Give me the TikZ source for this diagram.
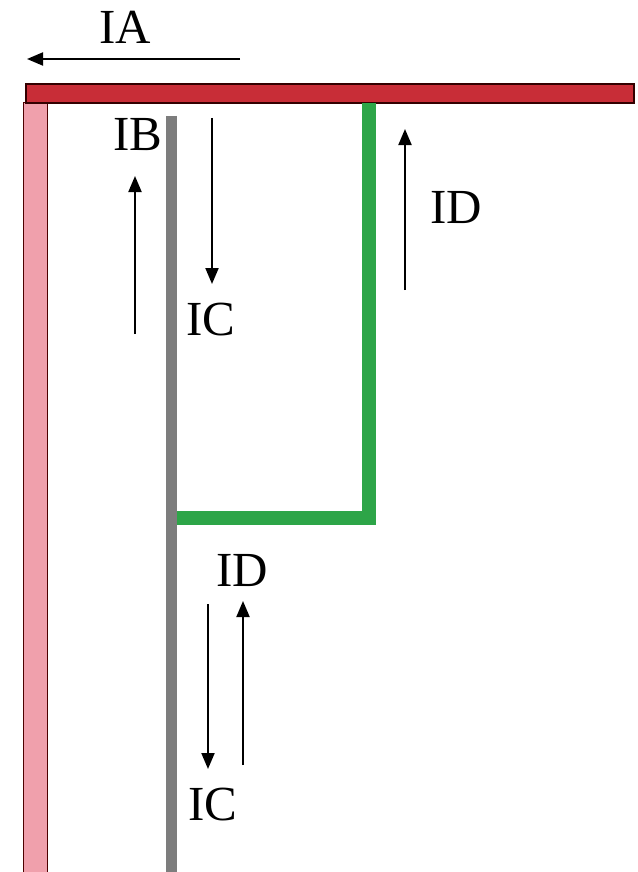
\documentclass[tikz,border=0pt]{standalone}
\usepackage{fontspec}
\setmainfont{Liberation Serif}
\usetikzlibrary{arrows.meta}
\definecolor{barred}{RGB}{200,45,55}
\definecolor{barpink}{RGB}{240,160,172}
\definecolor{bargreen}{RGB}{45,165,72}
\definecolor{bargray}{RGB}{125,125,125}
\tikzset{
  lbl/.style={inner sep=0pt, font=\fontsize{49}{49}\selectfont},
  cur/.style={line width=2pt, -{Triangle[length=16pt,width=13pt]}},
}
\begin{document}
\begin{tikzpicture}[x=1pt,y=-1pt]
\useasboundingbox (0,0) rectangle (637,872);
\fill[white] (0,0) rectangle (637,872);
% bars
\draw[fill=barpink, draw=black!70!red, line width=1pt] (23,103) rectangle (47,880);
\draw[fill=barred, draw=black!80!red, line width=1.2pt] (26,84) rectangle (634,103);
\draw[bargray, line width=11pt] (171.5,116) -- (171.5,880);
\draw[bargreen, line width=14pt] (369,103) -- (369,518) -- (177,518);
% labels
\node[lbl] (ia) at (125,27) {IA};
\node[lbl] (ib) at (138,135) {IB};
\node[lbl] (ic1) at (211,320) {IC};
\node[lbl] (id1) at (456,208) {ID};
\node[lbl] (id2) at (242,570) {ID};
\node[lbl] (ic2) at (213,805) {IC};
% arrow coordinates
\coordinate (iaS) at (240,59);
\coordinate (iaE) at (27,59);
\coordinate (ibS) at (135,334);
\coordinate (ibE) at (135,176);
\coordinate (icS) at (212,118);
\coordinate (icE) at (212,284);
\coordinate (idS) at (405,290);
\coordinate (idE) at (405,129);
\coordinate (ic2S) at (208,604);
\coordinate (ic2E) at (208,769);
\coordinate (id2S) at (243,765);
\coordinate (id2E) at (243,601);
\draw[cur] (iaS) -- (iaE);
\draw[cur] (ibS) -- (ibE);
\draw[cur] (icS) -- (icE);
\draw[cur] (idS) -- (idE);
\draw[cur] (ic2S) -- (ic2E);
\draw[cur] (id2S) -- (id2E);
\end{tikzpicture}
\end{document}
